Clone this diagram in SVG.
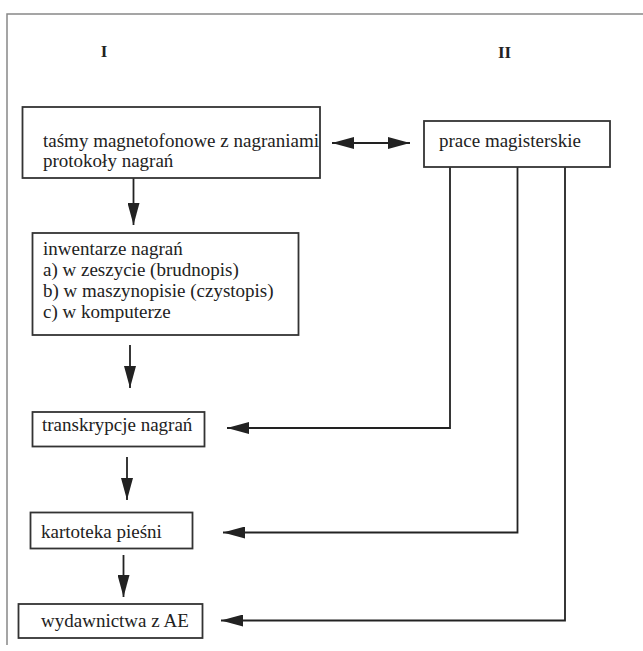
<svg xmlns="http://www.w3.org/2000/svg" width="643" height="651" viewBox="0 0 643 651">
<defs>
<marker id="ah" viewBox="0 0 22 12" refX="22" refY="6" markerWidth="22" markerHeight="12" markerUnits="userSpaceOnUse" orient="auto-start-reverse">
<path d="M0,0 L22,6 L0,12 Z" fill="#222"/>
</marker>
<style>
.box{fill:#fff;stroke:#333;stroke-width:1.8}
.t{font-family:"Liberation Serif","Times New Roman",serif;font-size:19px;fill:#222}
.h{font-family:"Liberation Serif","Times New Roman",serif;font-size:17px;font-weight:bold;fill:#222;text-anchor:middle}
.c{fill:none;stroke:#222;stroke-width:1.8}
.frame{fill:none;stroke:#888;stroke-width:1.5}
</style>
</defs>
<rect width="643" height="651" fill="#fff"/>
<path class="frame" d="M7,645 V14 H643"/>
<text class="h" x="104" y="57">I</text>
<text class="h" x="504.5" y="58">II</text>
<g id="connectors">
<line class="c" x1="332" y1="143" x2="410" y2="143" marker-start="url(#ah)" marker-end="url(#ah)"/>
<line class="c" x1="133.5" y1="178" x2="133.5" y2="225" marker-end="url(#ah)"/>
<line class="c" x1="130" y1="345" x2="130" y2="388" marker-end="url(#ah)"/>
<line class="c" x1="127" y1="457" x2="127" y2="500" marker-end="url(#ah)"/>
<line class="c" x1="123.5" y1="555" x2="123.5" y2="597" marker-end="url(#ah)"/>
<path class="c" d="M450,167 V428 H227" marker-end="url(#ah)"/>
<path class="c" d="M517.5,167 V532.5 H223" marker-end="url(#ah)"/>
<path class="c" d="M565,167 V620.5 H221" marker-end="url(#ah)"/>
</g>
<g id="tasmy">
<rect class="box" x="22.5" y="107" width="297.5" height="71"/>
<text class="t" x="43" y="146.5">taśmy magnetofonowe z nagraniami</text>
<text class="t" x="43" y="167">protokoły nagrań</text>
</g>
<g id="prace">
<rect class="box" x="424" y="121" width="186" height="46"/>
<text class="t" x="439" y="147">prace magisterskie</text>
</g>
<g id="inwentarze">
<rect class="box" x="32.5" y="233" width="266" height="102"/>
<text class="t" x="43" y="255">inwentarze nagrań</text>
<text class="t" x="43" y="276">a) w zeszycie (brudnopis)</text>
<text class="t" x="43" y="297">b) w maszynopisie (czystopis)</text>
<text class="t" x="43" y="318">c) w komputerze</text>
</g>
<g id="transkrypcje">
<rect class="box" x="32.5" y="412" width="172" height="34.5"/>
<text class="t" x="42" y="430.5">transkrypcje nagrań</text>
</g>
<g id="kartoteka">
<rect class="box" x="30.5" y="512.5" width="162" height="36"/>
<text class="t" x="41" y="538">kartoteka pieśni</text>
</g>
<g id="wydawnictwa">
<rect class="box" x="18.5" y="604" width="184" height="34"/>
<text class="t" x="41" y="627">wydawnictwa z AE</text>
</g>
</svg>
